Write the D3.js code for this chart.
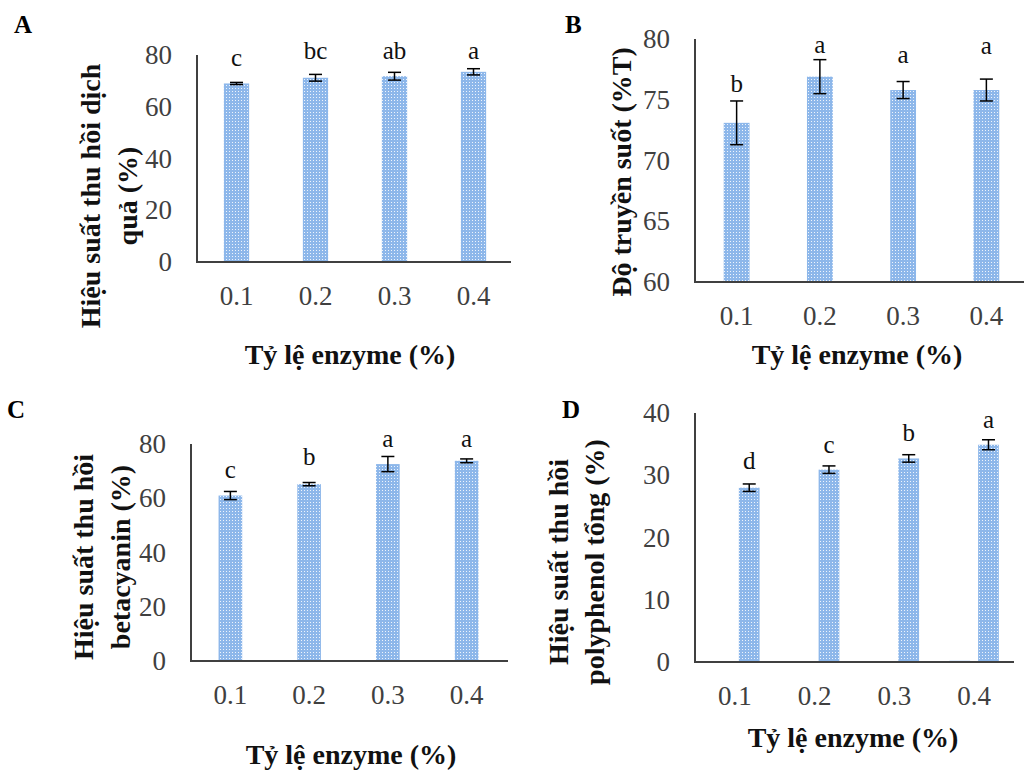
<!DOCTYPE html>
<html>
<head>
<meta charset="UTF-8">
<title>Tỷ lệ enzyme</title>
<style>
  body { margin: 0; background: #fff; }
  svg { display: block; }
  text { font-family: "Liberation Serif", "Times New Roman", serif; }
</style>
</head>
<body>
<script src="https://cdn.jsdelivr.net/npm/d3@7"></script>
<svg width="1024" height="770"></svg>
<script>
  // data
  var categories = ["0.1", "0.2", "0.3", "0.4"];

  var juiceYield = [69.0, 71.2, 71.8, 73.5];
  var juiceErr = [0.4, 1.3, 1.5, 1.2];
  var juiceLetters = ["c", "bc", "ab", "a"];

  var transmittance = [73.1, 76.9, 75.8, 75.8];
  var transErr = [1.8, 1.4, 0.7, 0.9];
  var transLetters = ["b", "a", "a", "a"];

  var betacyanin = [61.0, 65.2, 72.6, 73.8];
  var betaErr = [1.5, 0.6, 2.8, 0.7];
  var betaLetters = ["c", "b", "a", "a"];

  var polyphenol = [28.0, 30.9, 32.7, 34.9];
  var polyErr = [0.6, 0.6, 0.6, 0.8];
  var polyLetters = ["d", "c", "b", "a"];
  var polyphenolExtra = [0, 0, 0, 0.2];

  var yTicksA = [0, 20, 40, 60, 80];
  var yTicksB = [60, 65, 70, 75, 80];
  var yTicksD = [0, 10, 20, 30, 40];

  var svg = d3.select("svg");

  // bar fill: blue with a white dot grid
  var pat = svg.append("defs").append("pattern")
    .attr("id", "dots")
    .attr("patternUnits", "userSpaceOnUse")
    .attr("width", 3).attr("height", 3);
  pat.append("rect").attr("width", 3).attr("height", 3).attr("fill", "#8db7ea");
  pat.append("rect").attr("x", 1).attr("y", 1).attr("width", 1).attr("height", 1).attr("fill", "#eef4fc");

  var panels = [
    { tag: "A", tagX: 14, tagY: 33,
      x0: 197, x1: 513, y0: 262, y1: 55, axisEnd: 511,
      domain: [0, 80], ticks: yTicksA,
      values: juiceYield, err: juiceErr, letters: juiceLetters,
      gaps: [16, 15, 13, 10], barFrac: 0.32,
      ytitle: ["Hiệu suất thu hồi dịch", "quả (%)"], ytX: 100, ytY: 196, ytStep: 37,
      xtX: 350, xtY: 364 },
    { tag: "B", tagX: 565, tagY: 33,
      x0: 695, x1: 1028, y0: 282, y1: 39, axisEnd: 1024,
      domain: [60, 80], ticks: yTicksB,
      values: transmittance, err: transErr, letters: transLetters,
      gaps: [9, 7, 19, 25], barFrac: 0.31,
      ytitle: ["Độ truyền suốt (%T)"], ytX: 631, ytY: 172, ytStep: 0,
      xtX: 857, xtY: 364 },
    { tag: "C", tagX: 7, tagY: 418,
      x0: 191, x1: 506, y0: 661, y1: 444, axisEnd: 508,
      domain: [0, 80], ticks: yTicksA,
      values: betacyanin, err: betaErr, letters: betaLetters,
      gaps: [13, 18, 9, 12], barFrac: 0.3,
      ytitle: ["Hiệu suất thu hồi", "betacyanin (%)"], ytX: 93, ytY: 557, ytStep: 37,
      xtX: 351, xtY: 764 },
    { tag: "D", tagX: 562, tagY: 418,
      x0: 695, x1: 1014, y0: 662, y1: 413, axisEnd: 1014,
      domain: [0, 40], ticks: yTicksD,
      values: polyphenol, err: polyErr, letters: polyLetters, extra: polyphenolExtra,
      gaps: [15, 13, 14, 12], barFrac: 0.26,
      ytitle: ["Hiệu suất thu hồi", "polyphenol tổng  (%)"], ytX: 568, ytY: 562, ytStep: 36,
      xtX: 853, xtY: 747 }
  ];

  panels.forEach(function(p) {
    var x = d3.scaleBand().domain(categories).range([p.x0, p.x1]).padding(0);
    var y = d3.scaleLinear().domain(p.domain).range([p.y0, p.y1]);
    var bw = x.bandwidth() * p.barFrac;
    var shift = p.extra ? x.bandwidth() * 0.18 : 0;
    var g = svg.append("g");

    // second (near-zero) series in panel D
    if (p.extra) {
      g.selectAll(".extra").data(p.extra).enter().append("rect")
        .attr("x", function(d, i) { return x(categories[i]) + x.bandwidth() / 2 - shift - bw / 2; })
        .attr("y", function(d) { return y(d); })
        .attr("width", bw)
        .attr("height", function(d) { return p.y0 - y(d); })
        .attr("fill", "url(#dots)");
    }

    g.selectAll(".bar").data(p.values).enter().append("rect")
      .attr("x", function(d, i) { return x(categories[i]) + x.bandwidth() / 2 + shift - bw / 2; })
      .attr("y", function(d) { return y(d); })
      .attr("width", bw)
      .attr("height", function(d) { return p.y0 - y(d); })
      .attr("fill", "url(#dots)");

    // error bars
    p.values.forEach(function(v, i) {
      var cx = x(categories[i]) + x.bandwidth() / 2 + shift;
      var top = y(v + p.err[i]), bot = y(v - p.err[i]);
      g.append("line").attr("x1", cx).attr("x2", cx).attr("y1", top).attr("y2", bot)
        .attr("stroke", "#000").attr("stroke-width", 1.5);
      [top, bot].forEach(function(yy) {
        g.append("line").attr("x1", cx - 6.5).attr("x2", cx + 6.5).attr("y1", yy).attr("y2", yy)
          .attr("stroke", "#000").attr("stroke-width", 1.5);
      });
      g.append("text")
        .attr("x", cx).attr("y", top - p.gaps[i])
        .attr("text-anchor", "middle")
        .style("font-size", "25px").attr("fill", "#111")
        .text(p.letters[i]);
    });

    // axes
    var xa = g.append("g")
      .attr("transform", "translate(0," + p.y0 + ")")
      .call(d3.axisBottom(x).tickSize(0).tickSizeOuter(0).tickPadding(24))
      .attr("font-family", "Liberation Serif").attr("font-size", 27);
    xa.select(".domain").remove();
    xa.selectAll("text").attr("fill", "#404040");

    var ya = g.append("g")
      .attr("transform", "translate(" + p.x0 + ",0)")
      .call(d3.axisLeft(y).tickValues(p.ticks).tickSize(0).tickPadding(25))
      .attr("font-family", "Liberation Serif").attr("font-size", 27);
    ya.select(".domain").remove();
    ya.selectAll("text").attr("fill", "#404040");

    g.append("line").attr("x1", p.x0).attr("x2", p.x0).attr("y1", p.y1).attr("y2", p.y0 + 1)
      .attr("stroke", "#404040").attr("stroke-width", 2);
    g.append("line").attr("x1", p.x0 - 1).attr("x2", p.axisEnd).attr("y1", p.y0).attr("y2", p.y0)
      .attr("stroke", "#404040").attr("stroke-width", 2);

    // titles
    svg.append("text").attr("x", p.tagX).attr("y", p.tagY)
      .style("font-size", "25px").style("font-weight", "bold").text(p.tag);

    svg.append("text").attr("x", p.xtX).attr("y", p.xtY)
      .attr("text-anchor", "middle")
      .style("font-size", "28px").style("font-weight", "bold").attr("fill", "#111")
      .text("Tỷ lệ enzyme (%)");

    p.ytitle.forEach(function(t, k) {
      var tx = p.ytX + k * p.ytStep;
      svg.append("text")
        .attr("transform", "translate(" + tx + "," + p.ytY + ") rotate(-90)")
        .attr("text-anchor", "middle")
        .style("font-size", "28px").style("font-weight", "bold").attr("fill", "#111")
        .text(t);
    });
  });
</script>
</body>
</html>
